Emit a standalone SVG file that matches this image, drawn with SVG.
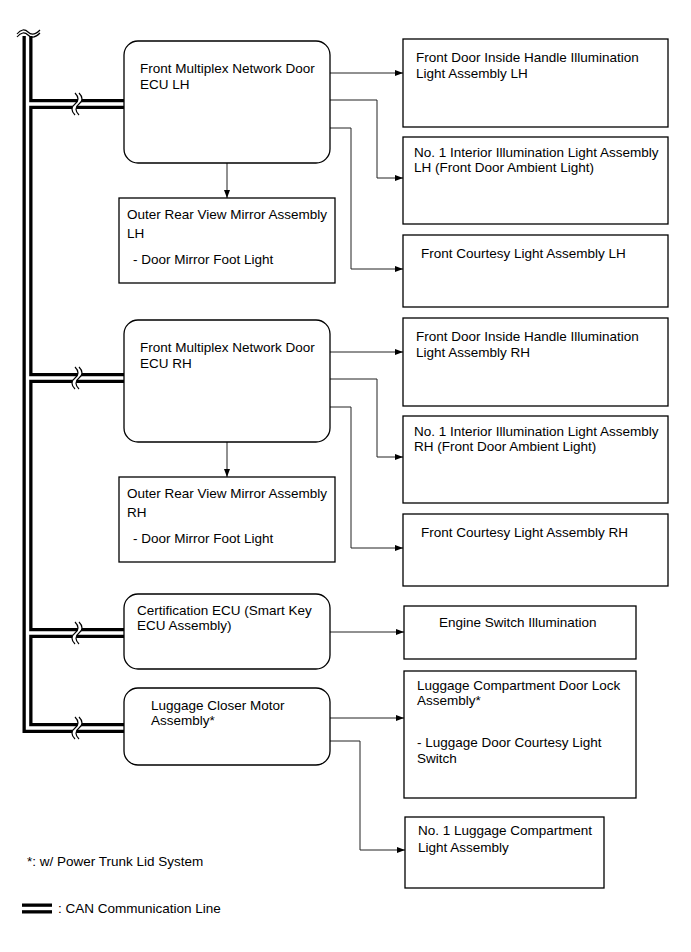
<svg xmlns="http://www.w3.org/2000/svg" xmlns:xlink="http://www.w3.org/1999/xlink" width="691" height="952" viewBox="0 0 691 952">
<style>
text{font-family:"Liberation Sans",Arial,sans-serif;font-size:13.5px;fill:#000}
.box{fill:#fff;stroke:#000;stroke-width:1.3}
.canb{fill:none;stroke:#000;stroke-width:10;stroke-linejoin:miter}
.canw{fill:none;stroke:#fff;stroke-width:3.4;stroke-linejoin:miter}
.con{fill:none;stroke:#222;stroke-width:1}
.wv{fill:none;stroke:#000;stroke-width:1.2}
</style>
<defs>
<marker id="ah" markerUnits="userSpaceOnUse" markerWidth="9" markerHeight="6" refX="8" refY="3" orient="auto">
<path d="M0,0 L8,3 L0,6 z" fill="#000"/>
</marker>
<g id="brk">
<path d="M75,-11 c4,4 4,8 0,11 c-4,3 -4,7 0,11 H79 c-4,-4 -4,-8 0,-11 c4,-3 4,-7 0,-11 Z" fill="#fff"/>
<path class="wv" d="M75,-11 c4,4 4,8 0,11 c-4,3 -4,7 0,11"/>
<path class="wv" d="M79,-11 c4,4 4,8 0,11 c-4,3 -4,7 0,11"/>
</g>
</defs>

<g id="can-bus">
<path class="canb" d="M27.5,36 V728 H124"/>
<path class="canb" d="M27.5,104 H124 M27.5,378 H124 M27.5,633 H124"/>
<path class="canw" d="M27.5,36 V728 H124"/>
<path class="canw" d="M27.5,104 H124 M27.5,378 H124 M27.5,633 H124"/>
<path class="wv" d="M17,34 c4,-5 8,-5 11,-2 s7,3 12,-2"/>
<path class="wv" d="M17,37 c4,-5 8,-5 11,-2 s7,3 12,-2"/>
<use xlink:href="#brk" transform="translate(0,104)"/>
<use xlink:href="#brk" transform="translate(0,378)"/>
<use xlink:href="#brk" transform="translate(0,633)"/>
<use xlink:href="#brk" transform="translate(0,728)"/>
</g>

<g id="connectors">
<path class="con" marker-end="url(#ah)" d="M330,73 H403"/>
<path class="con" marker-end="url(#ah)" d="M330,100 H377 V178 H403"/>
<path class="con" marker-end="url(#ah)" d="M330,128 H351 V269 H403"/>
<path class="con" marker-end="url(#ah)" d="M227,163 V198"/>
<path class="con" marker-end="url(#ah)" d="M330,352 H403"/>
<path class="con" marker-end="url(#ah)" d="M330,379 H377 V457 H403"/>
<path class="con" marker-end="url(#ah)" d="M330,407 H351 V548 H403"/>
<path class="con" marker-end="url(#ah)" d="M227,442 V477"/>
<path class="con" marker-end="url(#ah)" d="M330,632 H404"/>
<path class="con" marker-end="url(#ah)" d="M330,718 H404"/>
<path class="con" marker-end="url(#ah)" d="M330,741 H360 V850 H405"/>
</g>

<g id="ecu-lh">
<rect class="box" x="124" y="41" width="206" height="122" rx="14"/>
<text x="140" y="73">Front Multiplex Network Door</text>
<text x="140" y="89">ECU LH</text>
</g>
<g id="mirror-lh">
<rect class="box" x="119" y="198" width="216" height="85"/>
<text x="127" y="219">Outer Rear View Mirror Assembly</text>
<text x="127" y="238">LH</text>
<text x="133" y="264">- Door Mirror Foot Light</text>
</g>
<g id="handle-lh">
<rect class="box" x="403" y="39" width="265" height="88"/>
<text x="416" y="62">Front Door Inside Handle Illumination</text>
<text x="416" y="78">Light Assembly LH</text>
</g>
<g id="interior-lh">
<rect class="box" x="403" y="137" width="265" height="87"/>
<text x="414" y="157">No. 1 Interior Illumination Light Assembly</text>
<text x="414" y="172">LH (Front Door Ambient Light)</text>
</g>
<g id="courtesy-lh">
<rect class="box" x="403" y="235" width="265" height="72"/>
<text x="421" y="258">Front Courtesy Light Assembly LH</text>
</g>

<g id="ecu-rh">
<rect class="box" x="124" y="320" width="206" height="122" rx="14"/>
<text x="140" y="352">Front Multiplex Network Door</text>
<text x="140" y="368">ECU RH</text>
</g>
<g id="mirror-rh">
<rect class="box" x="119" y="477" width="216" height="85"/>
<text x="127" y="498">Outer Rear View Mirror Assembly</text>
<text x="127" y="517">RH</text>
<text x="133" y="543">- Door Mirror Foot Light</text>
</g>
<g id="handle-rh">
<rect class="box" x="403" y="318" width="265" height="88"/>
<text x="416" y="341">Front Door Inside Handle Illumination</text>
<text x="416" y="357">Light Assembly RH</text>
</g>
<g id="interior-rh">
<rect class="box" x="403" y="416" width="265" height="87"/>
<text x="414" y="436">No. 1 Interior Illumination Light Assembly</text>
<text x="414" y="451">RH (Front Door Ambient Light)</text>
</g>
<g id="courtesy-rh">
<rect class="box" x="403" y="514" width="265" height="72"/>
<text x="421" y="537">Front Courtesy Light Assembly RH</text>
</g>

<g id="cert-ecu">
<rect class="box" x="124" y="594" width="206" height="75" rx="14"/>
<text x="137" y="615">Certification ECU (Smart Key</text>
<text x="137" y="630">ECU Assembly)</text>
</g>
<g id="engine-switch">
<rect class="box" x="404" y="606" width="232" height="53"/>
<text x="439" y="627">Engine Switch Illumination</text>
</g>
<g id="luggage-closer">
<rect class="box" x="124" y="688" width="206" height="77" rx="14"/>
<text x="151" y="710">Luggage Closer Motor</text>
<text x="151" y="725">Assembly*</text>
</g>
<g id="door-lock">
<rect class="box" x="404" y="671" width="232" height="127"/>
<text x="417" y="690">Luggage Compartment Door Lock</text>
<text x="417" y="705">Assembly*</text>
<text x="417" y="747">- Luggage Door Courtesy Light</text>
<text x="417" y="763">Switch</text>
</g>
<g id="luggage-light">
<rect class="box" x="405" y="817" width="199" height="71"/>
<text x="418" y="835">No. 1 Luggage Compartment</text>
<text x="418" y="852">Light Assembly</text>
</g>

<g id="notes">
<text x="27" y="866">*: w/ Power Trunk Lid System</text>
<path class="canb" d="M22,908.5 H52"/>
<path class="canw" d="M22,908.5 H52"/>
<text x="58" y="913">: CAN Communication Line</text>
</g>
</svg>
